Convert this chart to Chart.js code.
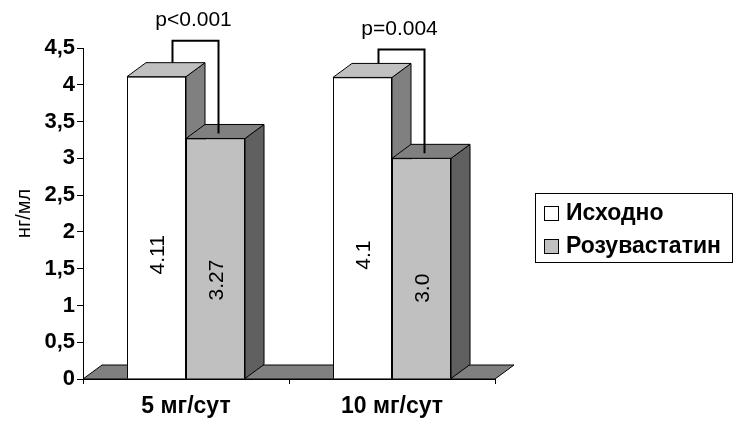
<!DOCTYPE html>
<html>
<head>
<meta charset="utf-8">
<script src="https://cdn.jsdelivr.net/npm/chart.js"></script>
<style>
  body { margin: 0; background: #fff; }
  #wrap { width: 743px; height: 446px; }
</style>
</head>
<body>
<div id="wrap"><canvas id="grafico" width="743" height="446"></canvas></div>
<script>
// данные с картинки
const categorias = ['5 мг/сут', '10 мг/сут'];
const series = ['Исходно', 'Розувастатин'];
const valoresIsx = [4.11, 4.1];
const valoresRoz = [3.27, 3.0];
const etiquetas = [['4.11', '4.1'], ['3.27', '3.0']];
const pTextos = ['p<0.001', 'p=0.004'];
const pAltura = [4.6, 4.48];   // верх скобки, в единицах оси

const DX = 19, DY = -14;  // глубина 3D
const colores = [
        { front: '#ffffff', top: '#c0c0c0', side: '#808080' },
        { front: '#c0c0c0', top: '#808080', side: '#606060' }
];

function poly(ctx, pts, fill) {
        ctx.beginPath();
        ctx.moveTo(pts[0][0], pts[0][1]);
        for (let i = 1; i < pts.length; i++) ctx.lineTo(pts[i][0], pts[i][1]);
        ctx.closePath();
        ctx.fillStyle = fill;
        ctx.fill();
        ctx.lineWidth = 1;
        ctx.strokeStyle = '#000';
        ctx.stroke();
}

const tresD = {
        id: 'tresD',
        beforeDatasetsDraw(chart) {
                const ctx = chart.ctx;
                const a = chart.chartArea;
                ctx.save();
                // пол
                poly(ctx, [[a.left, a.bottom], [a.left + DX, a.bottom + DY], [a.right + DX, a.bottom + DY], [a.right, a.bottom]], '#808080');
                // верх и бок столбиков
                for (let c = 0; c < categorias.length; c++) {
                        chart.data.datasets.forEach((ds, d) => {
                                const b = chart.getDatasetMeta(d).data[c];
                                const l = b.x - b.width / 2, r = b.x + b.width / 2;
                                poly(ctx, [[r, b.y], [r + DX, b.y + DY], [r + DX, b.base + DY], [r, b.base]], colores[d].side);
                                poly(ctx, [[l, b.y], [l + DX, b.y + DY], [r + DX, b.y + DY], [r, b.y]], colores[d].top);
                        });
                }
                ctx.restore();
        },
        afterDatasetsDraw(chart) {
                const ctx = chart.ctx;
                const ys = chart.scales.y;
                ctx.save();
                // подписи внутри столбиков
                ctx.fillStyle = '#000';
                ctx.font = '21px "Liberation Sans", Arial, sans-serif';
                ctx.textAlign = 'center';
                ctx.textBaseline = 'middle';
                chart.data.datasets.forEach((ds, d) => {
                        chart.getDatasetMeta(d).data.forEach((b, c) => {
                                const yy = b.base - (b.base - b.y) * 0.41;
                                ctx.save();
                                ctx.translate(b.x + 2, yy);
                                ctx.rotate(-Math.PI / 2);
                                ctx.fillText(etiquetas[d][c], 0, 0);
                                ctx.restore();
                        });
                });
                // скобки с p
                ctx.lineWidth = 2;
                ctx.strokeStyle = '#000';
                for (let c = 0; c < categorias.length; c++) {
                        const b1 = chart.getDatasetMeta(0).data[c];
                        const b2 = chart.getDatasetMeta(1).data[c];
                        const x1 = b1.x + DX - 3, y1 = b1.y + DY;
                        const x2 = b2.x + 3, y2 = b2.y + DY / 2 + 2;
                        const yt = ys.getPixelForValue(pAltura[c]);
                        ctx.beginPath();
                        ctx.moveTo(x1, y1);
                        ctx.lineTo(x1, yt);
                        ctx.lineTo(x2, yt);
                        ctx.lineTo(x2, y2);
                        ctx.stroke();
                        ctx.fillText(pTextos[c], (x1 + x2) / 2 - 2, yt - 20);
                }
                ctx.restore();
        },
        afterDraw(chart) {
                // легенда в рамке
                const ctx = chart.ctx;
                const a = chart.chartArea;
                const bx = a.right + 40, by = 193, bw = 197, bh = 69;
                ctx.save();
                ctx.fillStyle = '#fff';
                ctx.fillRect(bx, by, bw, bh);
                ctx.strokeStyle = '#000';
                ctx.lineWidth = 1;
                ctx.strokeRect(bx + 0.5, by + 0.5, bw, bh);
                ctx.font = 'bold 23px "Liberation Sans", Arial, sans-serif';
                ctx.textBaseline = 'middle';
                ctx.textAlign = 'left';
                chart.data.datasets.forEach((ds, d) => {
                        const cy = by + 20 + d * 33;
                        ctx.fillStyle = ds.backgroundColor;
                        ctx.fillRect(bx + 9, cy - 7, 14, 14);
                        ctx.strokeRect(bx + 9.5, cy - 6.5, 14, 14);
                        ctx.fillStyle = '#000';
                        ctx.fillText(ds.label, bx + 31, cy + 1);
                });
                ctx.restore();
        }
};

const ctx = document.getElementById('grafico');
const myChart = new Chart(ctx, {
        type: 'bar',
        data: {
                labels: categorias,
                datasets: [
                        { label: series[0], data: valoresIsx, backgroundColor: '#ffffff', borderColor: '#000', borderWidth: 1 },
                        { label: series[1], data: valoresRoz, backgroundColor: '#c0c0c0', borderColor: '#000', borderWidth: 1 }
                ]
        },
        options: {
                responsive: false,
                devicePixelRatio: 1,
                animation: false,
                layout: { padding: { top: 48, right: 248, left: 0, bottom: 0 } },
                datasets: { bar: { barPercentage: 1, categoryPercentage: 0.573 } },
                plugins: { legend: { display: false }, tooltip: { enabled: false } },
                scales: {
                        x: {
                                afterFit: s => { s.height = 67; },
                                grid: { drawOnChartArea: false, offset: true, tickLength: 5, color: '#000' },
                                border: { color: '#000' },
                                ticks: { color: '#000', padding: 9, font: { family: '"Liberation Sans", Arial', size: 23, weight: 'bold' } }
                        },
                        y: {
                                min: 0, max: 4.5,
                                afterFit: s => { s.width = 83; },
                                grid: { drawOnChartArea: false, tickLength: 6, color: '#000' },
                                border: { color: '#000' },
                                ticks: {
                                        stepSize: 0.5, color: '#000', padding: 2,
                                        font: { family: '"Liberation Sans", Arial', size: 22, weight: 'bold' },
                                        callback: v => Number.isInteger(v) ? String(v) : String(v).replace('.', ',')
                                },
                                title: { display: true, text: 'нг/мл', color: '#000', padding: { top: 12, bottom: 0 }, font: { family: '"Liberation Sans", Arial', size: 20 } }
                        }
                }
        },
        plugins: [tresD]
});
</script>
</body>
</html>
